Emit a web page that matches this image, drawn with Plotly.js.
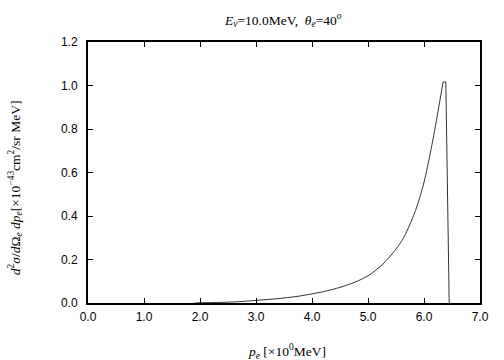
<!DOCTYPE html>
<html>
<head>
<meta charset="utf-8">
<script src="https://cdn.plot.ly/plotly-3.0.1.min.js"></script>
<style>html,body{margin:0;padding:0;background:#fff;}#chart{width:504px;height:360px;}</style>
</head>
<body>
<div id="chart"></div>
<script>
// rising branch of the spectrum
const momentum = [1.9, 2.0, 2.25, 2.5, 2.75, 3.0, 3.25, 3.5, 3.75, 4.0, 4.25, 4.5, 4.75, 5.0, 5.25, 5.5, 5.625, 5.75, 5.875, 6.0, 6.125, 6.25, 6.34];
const crossSection = [0.0, 0.001, 0.002, 0.004, 0.007, 0.012, 0.017, 0.023, 0.031, 0.042, 0.055, 0.072, 0.094, 0.125, 0.175, 0.248, 0.295, 0.362, 0.445, 0.555, 0.705, 0.880, 1.016];
// kinematic end point (flat top and sharp drop)
const edgeMomentum = [6.34, 6.39, 6.45];
const edgeCrossSection = [1.016, 1.016, 0.0];
const xTicks = [0, 1, 2, 3, 4, 5, 6, 7];
const xTickLabels = ["0.0", "1.0", "2.0", "3.0", "4.0", "5.0", "6.0", "7.0"];
const yTicks = [0, 0.2, 0.4, 0.6, 0.8, 1.0, 1.2];
const yTickLabels = ["0.0", "0.2", "0.4", "0.6", "0.8", "1.0", "1.2"];

const serif = "Liberation Serif, Times New Roman, serif";
const sans = "Liberation Sans, Arial, sans-serif";

const traces = [
  {x: momentum, y: crossSection, type: "scatter", mode: "lines",
   line: {color: "#333", width: 1, shape: "spline", smoothing: 0.8}, hoverinfo: "skip", showlegend: false},
  {x: edgeMomentum, y: edgeCrossSection, type: "scatter", mode: "lines",
   line: {color: "#333", width: 1}, hoverinfo: "skip", showlegend: false}
];

const axisCommon = {
  showline: true, linecolor: "#000", linewidth: 2, mirror: "ticks",
  ticks: "inside", ticklen: 5, tickwidth: 1, tickcolor: "#000",
  showgrid: false, zeroline: false,
  tickfont: {family: sans, size: 12, color: "#000"}
};

const layout = {
  width: 504, height: 360,
  margin: {l: 88, r: 24, t: 42, b: 57},
  paper_bgcolor: "#fff", plot_bgcolor: "#fff",
  title: {text: "<i>E</i><sub><i>ν</i></sub>=10.0MeV,  <i>θ</i><sub><i>e</i></sub>=40<sup><i>o</i></sup>",
          font: {family: serif, size: 13.5, color: "#000"}, x: 0.562, xanchor: "center", y: 0.945, yanchor: "middle"},
  xaxis: Object.assign({}, axisCommon, {range: [0, 7], tickvals: xTicks, ticktext: xTickLabels, ticklabelstandoff: 2}),
  yaxis: Object.assign({}, axisCommon, {range: [0, 1.2], tickvals: yTicks, ticktext: yTickLabels, ticklabelstandoff: 6}),
  annotations: [
    {text: "<i>p</i><sub><i>e</i></sub> [×10<sup>0</sup>MeV]", xref: "paper", yref: "paper",
     x: 0.508, y: -0.185, xanchor: "center", yanchor: "middle", showarrow: false,
     font: {family: serif, size: 13.5, color: "#000"}},
    {text: "<i>d</i><sup>2</sup><i>σ</i>/<i>d</i>Ω<sub><i>e</i></sub> <i>dp</i><sub><i>e</i></sub>[×10<sup>−43</sup>cm<sup>2</sup>/sr MeV]",
     xref: "paper", yref: "paper", x: -0.186, y: 0.44, xanchor: "center", yanchor: "middle",
     textangle: -90, showarrow: false, font: {family: serif, size: 13.5, color: "#000"}}
  ]
};

Plotly.newPlot("chart", traces, layout, {displayModeBar: false, staticPlot: true});
</script>
</body>
</html>
